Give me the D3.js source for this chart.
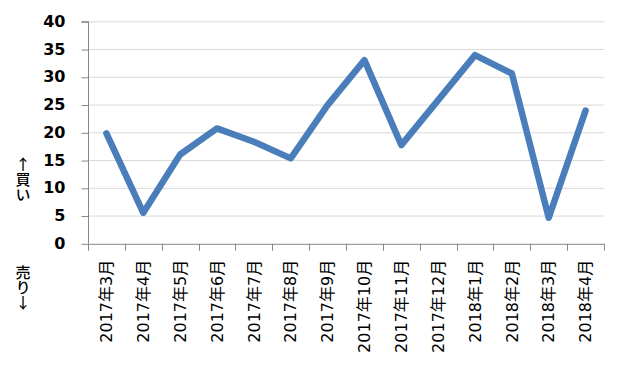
<!DOCTYPE html>
<html><head><meta charset="utf-8">
<script src="https://cdn.jsdelivr.net/npm/d3@7"></script>
<style>
body{margin:0;background:#fff;}
svg{display:block;}
</style></head>
<body>
<svg id="c" width="621" height="365"></svg>
<script>
const categories = ["2017年3月","2017年4月","2017年5月","2017年6月","2017年7月","2017年8月","2017年9月","2017年10月","2017年11月","2017年12月","2018年1月","2018年2月","2018年3月","2018年4月"];
const values = [19.8, 5.5, 16.0, 20.7, 18.3, 15.3, 24.9, 33.0, 17.7, 25.8, 33.9, 30.6, 4.6, 23.9];
const yTicks = [0,5,10,15,20,25,30,35,40];
const notes = ["↑買い", "売り↓"];

const svg = d3.select("#c");
const L = 88, R = 604, T = 21.3, B = 243.3;
const x = d3.scaleBand().domain(categories).range([L, R]);
const y = d3.scaleLinear().domain([0, 40]).range([B, T]);
const font = "'DejaVu Sans','Noto Sans CJK JP',sans-serif";
const cjk = "'Noto Sans CJK JP',sans-serif";

// gridlines
svg.append("g").selectAll("line").data(yTicks.filter(d=>d>0)).join("line")
  .attr("x1", L).attr("x2", R)
  .attr("y1", d=>y(d)+0.5).attr("y2", d=>y(d)+0.5)
  .attr("stroke", "#d9d9d9").attr("stroke-width", 1);

// y axis
const ya = svg.append("g").attr("transform", `translate(${L+0.5},0)`)
  .call(d3.axisLeft(y).tickValues(yTicks).tickSize(7).tickPadding(16));
ya.select(".domain").attr("stroke", "#868686").attr("d", `M-7,${y(40)+0.5}H0V${B+0.5}`);
ya.selectAll(".tick line").attr("stroke", "#868686").attr("transform","translate(0,0.5)");
ya.selectAll(".tick text").attr("font-family", font).attr("font-size", 16)
  .attr("font-weight", "bold").attr("fill", "#000");

// x axis
const xa = svg.append("g").attr("transform", `translate(0,${B+0.5})`)
  .call(d3.axisBottom(x).tickSize(0).tickFormat(d=>d));
xa.select(".domain").attr("stroke", "#868686");
const edges = categories.map(c => x(c)).concat([R]);
xa.append("g").selectAll("line").data(edges).join("line")
  .attr("x1", d=>Math.round(d)+0.5).attr("x2", d=>Math.round(d)+0.5)
  .attr("y1", 0).attr("y2", 7).attr("stroke", "#868686");
xa.selectAll(".tick text")
  .attr("font-family", font).attr("font-size", 16).attr("fill", "#000")
  .attr("text-anchor", "end")
  .attr("transform", "rotate(-90)")
  .attr("x", -16).attr("y", 0).attr("dy", "0.36em");

// line
const line = d3.line().x((d,i)=>x(categories[i]) + x.bandwidth()/2).y(d=>y(d));
svg.append("path").datum(values)
  .attr("d", line)
  .attr("fill", "none")
  .attr("stroke", "#4a7ebb")
  .attr("stroke-width", 6.5)
  .attr("stroke-linejoin", "round")
  .attr("stroke-linecap", "round");

// annotations (vertical text)
svg.append("g").selectAll("text").data(notes).join("text")
  .attr("x", 23).attr("y", (d,i)=> i===0 ? 157 : 265)
  .style("writing-mode", "vertical-rl")
  .style("text-orientation", "upright")
  .attr("font-family", cjk).attr("font-size", 15).attr("font-weight", 500)
  .attr("fill","#000")
  .text(d=>d);
</script>
</body></html>
